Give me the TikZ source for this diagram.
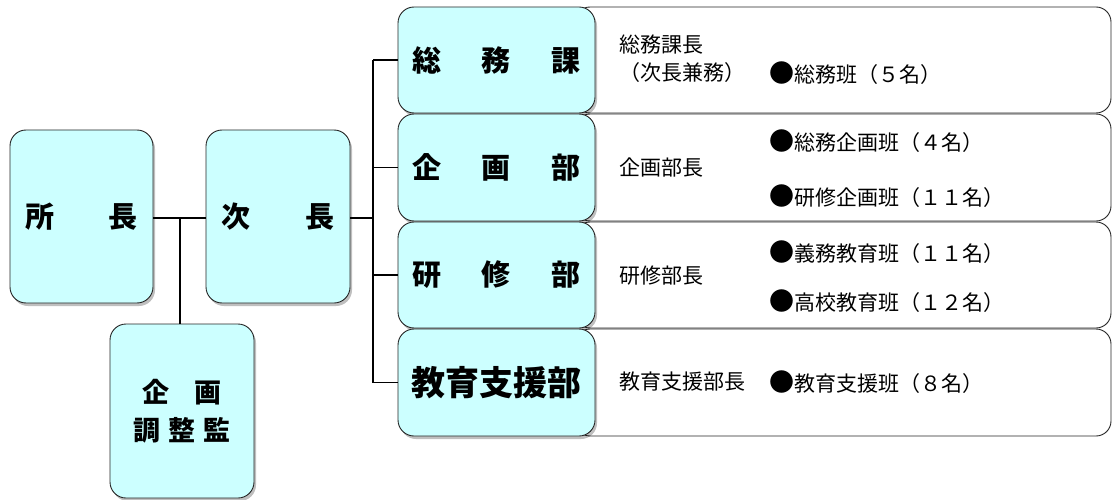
\documentclass[tikz,border=0pt]{standalone}
\usepackage{fontspec}
\setmainfont{Noto Sans CJK JP}
\usetikzlibrary{shadows}
\definecolor{boxcyan}{HTML}{CCFFFF}
\newcommand{\dotmark}{{\fontsize{25}{22}\selectfont ●}}
\begin{document}
\begin{tikzpicture}[x=1pt,y=-1pt,
  bluebox/.style={draw=black!85, line width=0.9pt, fill=boxcyan, rounded corners=16pt, inner sep=0pt,
    drop shadow={shadow xshift=2pt,shadow yshift=-3pt,fill=black,opacity=0.25}},
  infobox/.style={draw=black!85, line width=0.9pt, fill=white, rounded corners=15pt, inner sep=0pt,
    minimum width=536pt},
  deptbox/.style={bluebox, minimum width=197pt},
  big/.style={font=\fontsize{29}{30}\selectfont\bfseries},
  small/.style={font=\fontsize{21}{22}\selectfont, inner sep=0pt, anchor=west},
  conn/.style={line width=1.4pt, black}]
\useasboundingbox (0,0) rectangle (1113,500);

% coordinates for connectors
\coordinate (j1) at (180,218);
\coordinate (bus) at (373,218);

% info boxes (right)
\node[infobox, minimum height=106pt] (r1) at (843,60) {};
\node[infobox, minimum height=107pt] (r2) at (843,167.5) {};
\node[infobox, minimum height=106pt] (r3) at (843,275) {};
\node[infobox, minimum height=107pt] (r4) at (843,382.5) {};

% department boxes
\node[deptbox, minimum height=106pt, big] (d1) at (496.5,60) {総\hspace{41pt}務\hspace{41pt}課};
\node[deptbox, minimum height=107pt, big] (d2) at (496.5,167.5) {企\hspace{41pt}画\hspace{41pt}部};
\node[deptbox, minimum height=106pt, big] (d3) at (496.5,275) {研\hspace{41pt}修\hspace{41pt}部};
\node[deptbox, minimum height=107pt, font=\fontsize{34}{36}\selectfont\bfseries] (d4) at (496.5,382.5) {教育支援部};

% left boxes
\node[bluebox, minimum width=143pt, minimum height=173pt, big] (shocho) at (81.5,216.5) {所\hspace{55pt}長};
\node[bluebox, minimum width=144pt, minimum height=173pt, big] (jicho) at (278,216.5) {次\hspace{55pt}長};
\node[bluebox, minimum width=144pt, minimum height=174pt, align=center,
  font=\fontsize{27}{38}\selectfont\bfseries] (kikaku) at (182,411) {企\hspace{25pt}画\\調\hspace{8pt}整\hspace{8pt}監};

% connectors
\draw[conn] (shocho.east |- j1) -- (jicho.west |- j1);
\draw[conn] (j1) -- (j1 |- kikaku.north);
\draw[conn] (jicho.east |- bus) -- (bus);
\draw[conn] (bus |- d1.west) -- (bus |- d4.west);
\draw[conn] (bus |- d1.west) -- (d1.west);
\draw[conn] (bus |- d2.west) -- (d2.west);
\draw[conn] (bus |- d3.west) -- (d3.west);
\draw[conn] (bus |- d4.west) -- (d4.west);

% texts
\node[small] (t11) at (619,45) {総務課長};
\node[small] (t12) at (619,73) {（次長兼務）};
\node[small] (t13) at (769,73) {\dotmark 総務班（５名）};
\node[small] (t21) at (769,141) {\dotmark 総務企画班（４名）};
\node[small] (t22) at (619,168) {企画部長};
\node[small] (t23) at (769,196) {\dotmark 研修企画班（１１名）};
\node[small] (t31) at (769,252) {\dotmark 義務教育班（１１名）};
\node[small] (t32) at (619,276) {研修部長};
\node[small] (t33) at (769,301) {\dotmark 高校教育班（１２名）};
\node[small] (t41) at (619,382) {教育支援部長};
\node[small] (t42) at (769,382) {\dotmark 教育支援班（８名）};
\end{tikzpicture}
\end{document}
